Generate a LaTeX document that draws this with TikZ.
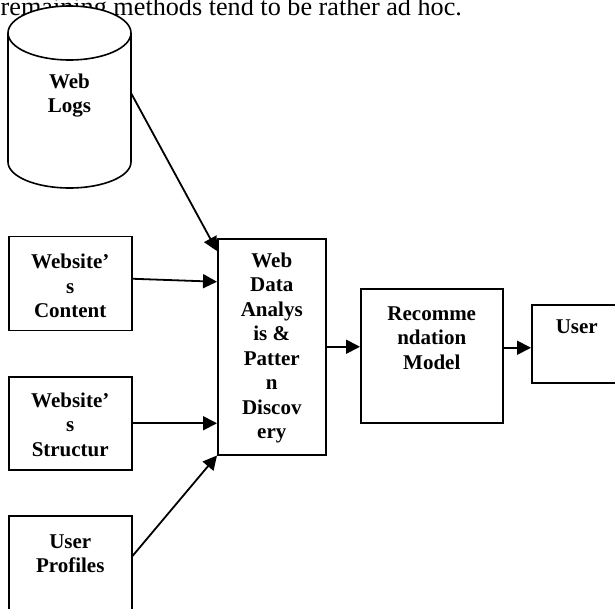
\documentclass[tikz,border=0pt]{standalone}
\usepackage{fontspec}
\setmainfont{Liberation Serif}
\usetikzlibrary{arrows.meta}
\tikzset{
  box/.style={draw, line width=1.5pt, anchor=north west, inner sep=0pt},
  lbl/.style={anchor=north, align=center, inner sep=0pt,
    font=\fontsize{21}{24.5}\selectfont\bfseries},
  link/.style={line width=1.8pt, -{Triangle[length=14pt, width=14pt]}}
}
\begin{document}
\begin{tikzpicture}[x=1pt, y=1pt]
\useasboundingbox (0,0) rectangle (615,-608);
\clip (0,0) rectangle (615,-608);
\node[anchor=base west, inner sep=0pt, font=\fontsize{26.2}{30}\selectfont](remark)at(0.5,-15.5){remaining methods tend to be rather ad hoc.};
% web logs drum
\draw[line width=1.6pt, fill=white] (69.5,-33) ellipse [x radius=61.5, y radius=27];
\draw[line width=1.6pt] (8,-33) -- (8,-162) arc [start angle=180, end angle=360, x radius=61.5, y radius=26] -- (131,-33);
\node[lbl](logs)at(69.5,-73.5){Web\\Logs};
\coordinate(logsout)at(131,-93);
%
\node[box, minimum width=123pt, minimum height=94pt](content)at(8,-235.5){};
\node[lbl](contentlbl)at([yshift=-18.5pt]content.north){Website’\\s\\Content};
\node[box, minimum width=123pt, minimum height=93pt](structure)at(8,-376){};
\node[lbl](structurelbl)at([yshift=-16.5pt]structure.north){Website’\\s\\Structur};
\node[box, minimum width=123pt, minimum height=110pt](profiles)at(8,-515){};
\node[lbl](profileslbl)at([yshift=-19.5pt]profiles.north){User\\Profiles};
%
\node[box, minimum width=108pt, minimum height=216pt](analysis)at(217,-238){};
\node[lbl](analysislbl)at([yshift=-14.5pt]analysis.north){Web\\Data\\Analys\\is \&\\Patter\\n\\Discov\\ery};
\node[box, minimum width=142pt, minimum height=134pt](model)at(360,-288){};
\node[lbl](modellbl)at([yshift=-18.5pt]model.north){Recomme\\ndation\\Model};
\node[box, minimum width=90pt, minimum height=78pt](user)at(531,-304){};
\node[lbl](userlbl)at([yshift=-15.5pt]user.north){User};
%
\draw[link](logsout) -- ([yshift=-13pt]analysis.north west);
\draw[link]([yshift=4.5pt]content.east) -- ([yshift=1.5pt]content.east -| analysis.west);
\draw[link](structure.east) -- (structure.east -| analysis.west);
\draw[link]([yshift=-41pt]profiles.north east) -- (analysis.south west);
\draw[link](analysis.east) -- (analysis.east -| model.west);
\draw[link]([yshift=8pt]model.east) -- ([yshift=8pt]model.east -| user.west);
\end{tikzpicture}
\end{document}
